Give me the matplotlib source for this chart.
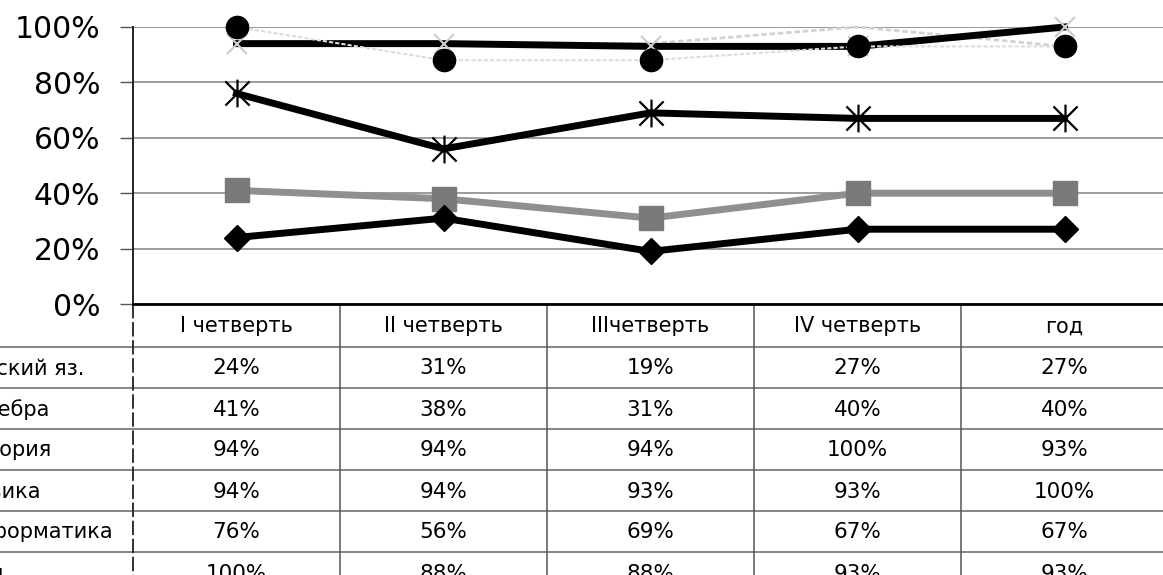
import matplotlib
matplotlib.use("Agg")
import matplotlib.pyplot as plt
from matplotlib.path import Path

plt.rcParams['font.family'] = ['DejaVu Sans']

# data
periods = ["I четверть", "II четверть", "IIIчетверть", "IV четверть", "год"]
subjects = ["Русский яз.", "Алгебра", "История", "Физика", "Информатика", "Хим."]
rus = [24, 31, 19, 27, 27]
alg = [41, 38, 31, 40, 40]
hist = [94, 94, 94, 100, 93]
phys = [94, 94, 93, 93, 100]
inf = [76, 56, 69, 67, 67]
chem = [100, 88, 88, 93, 93]
values = [rus, alg, hist, phys, inf, chem]

W, H = 1163, 575
fig = plt.figure(figsize=(W / 100, H / 100), dpi=100)

# layout in pixels
x_axis = 133
col_w = 207
y_top = 27
y_zero = 304
row_h = 41
head_h = 43

# table drawn in pixel coordinates
tab = fig.add_axes([0, 0, 1, 1])
tab.set_xlim(0, W)
tab.set_ylim(H, 0)
tab.axis("off")

n_cols = len(periods)
# header row
for j, p in enumerate(periods):
    tab.text(x_axis + col_w * (j + 0.5), y_zero + head_h / 2 + 1, p,
             ha="center", va="center", fontsize=15)
# data rows
for i, (name, vals) in enumerate(zip(subjects, values)):
    y0 = y_zero + head_h + row_h * i
    tab.axhline(y0, color="#666666", lw=1.1)
    tab.text(-40, y0 + row_h / 2 + 1, name, ha="left", va="center", fontsize=15)
    for j, v in enumerate(vals):
        tab.text(x_axis + col_w * (j + 0.5), y0 + row_h / 2 + 1, f"{v}%",
                 ha="center", va="center", fontsize=15.5)
# vertical lines of table
for j in range(1, n_cols):
    tab.plot([x_axis + col_w * j] * 2, [y_zero, H], color="#555555", lw=1.1)
tab.plot([x_axis, x_axis], [y_zero, H], color="#222222", lw=1.3, ls=(0, (8, 2)))

# line chart
ax = fig.add_axes([x_axis / W, (H - y_zero) / H, col_w * n_cols / W, (y_zero - y_top) / H])
ax.set_facecolor("none")
x = list(range(n_cols))
ax.set_xlim(-0.5, n_cols - 0.5)
ax.set_ylim(0, 1)

star = Path([(-1, -1), (1, 1), (-1, 1), (1, -1), (0, -1.15), (0, 1.15)],
            [Path.MOVETO, Path.LINETO, Path.MOVETO, Path.LINETO, Path.MOVETO, Path.LINETO])

ax.plot(x, [v / 100 for v in hist], color="#d2d2d2", lw=2, ls=(0, (2, 1)), clip_on=False, zorder=3)
ax.plot(x, [v / 100 for v in chem], color="#dcdcdc", lw=1.5, ls=(0, (2, 1)),
        marker="o", ms=16, mfc="black", mec="black", clip_on=False, zorder=6)
ax.plot(x, [v / 100 for v in phys], color="black", lw=5,
        marker="x", ms=14, mec="#cccccc", mew=1.5, clip_on=False, zorder=4)
ax.plot(x, [v / 100 for v in alg], color="#8f8f8f", lw=5,
        marker="s", ms=17, mfc="#7a7a7a", mec="#7a7a7a", clip_on=False, zorder=4)
ax.plot(x, [v / 100 for v in rus], color="black", lw=5,
        marker="D", ms=13, mfc="black", mec="black", clip_on=False, zorder=5)
ax.plot(x, [v / 100 for v in inf], color="black", lw=5,
        marker=star, ms=20, mec="black", mfc="none", mew=1.6, clip_on=False, zorder=5)

ax.set_yticks([0, 0.2, 0.4, 0.6, 0.8, 1.0])
ax.set_yticklabels(["0%", "20%", "40%", "60%", "80%", "100%"], fontsize=21.5)
ax.tick_params(axis="y", direction="out", length=9.5, pad=14, color="#555555", width=1)
ax.set_xticks([])
ax.grid(axis="y", color="#8a8a8a", lw=1.2)
ax.set_axisbelow(True)
for s in ["top", "right"]:
    ax.spines[s].set_visible(False)
ax.spines["left"].set_color("#222222")
ax.spines["left"].set_linewidth(1.4)
ax.spines["bottom"].set_color("black")
ax.spines["bottom"].set_linewidth(2)

fig.savefig("out.png", dpi=100)
